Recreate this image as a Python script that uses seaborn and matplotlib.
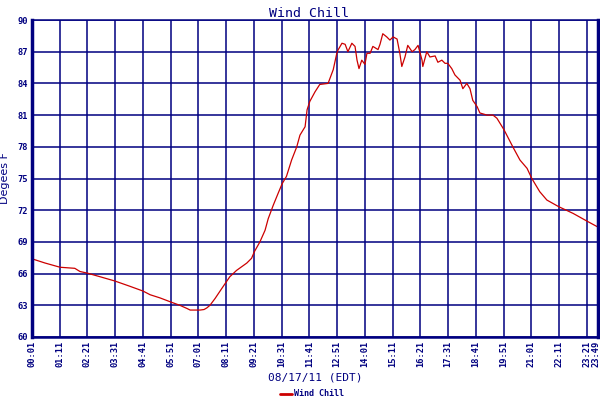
import pandas as pd
import seaborn as sns
import matplotlib
matplotlib.use("Agg")
import matplotlib.pyplot as plt
from matplotlib.transforms import ScaledTranslation

# minutes after 00:01 and wind chill (F)
minutes = [0, 33, 71, 108, 121, 139, 172, 209, 247, 280, 298, 323, 351, 373,
           391, 399, 424, 434, 441, 449, 462, 479, 499, 516, 542, 554, 561,
           575, 588, 596, 609, 621, 631, 642, 655, 668, 676, 689, 694, 701,
           714, 726, 747, 760, 769, 772, 782, 790, 797, 807, 815, 820, 825,
           832, 840, 845, 853, 860, 873, 878, 885, 895, 903, 911, 921, 928,
           933, 941, 948, 959, 966, 974, 984, 986, 996, 1004, 1017, 1024,
           1034, 1042, 1049, 1059, 1067, 1080, 1087, 1097, 1105, 1112, 1123,
           1130, 1148, 1163, 1173, 1191, 1213, 1231, 1249, 1261, 1281, 1299,
           1329, 1365, 1400, 1428]
wind_chill = [67.4, 67.0, 66.6, 66.5, 66.2, 66.05, 65.7, 65.3, 64.8, 64.35,
              64.0, 63.7, 63.3, 63.0, 62.7, 62.55, 62.55, 62.6, 62.75, 63.0,
              63.65, 64.6, 65.7, 66.3, 67.0, 67.45, 68.07, 69.0, 70.1, 71.2,
              72.5, 73.6, 74.5, 75.2, 76.75, 78.0, 79.1, 79.9, 81.5, 82.3,
              83.2, 83.9, 84.0, 85.3, 86.85, 87.15, 87.8, 87.7, 87.0, 87.8,
              87.5, 86.2, 85.4, 86.2, 85.8, 86.85, 86.85, 87.5, 87.2, 87.7,
              88.7, 88.4, 88.1, 88.4, 88.2, 86.85, 85.6, 86.5, 87.6, 87.0,
              87.2, 87.6, 86.2, 85.6, 87.0, 86.5, 86.6, 86.0, 86.2, 85.9,
              85.9, 85.4, 84.8, 84.3, 83.5, 84.0, 83.5, 82.4, 81.8, 81.2,
              81.0, 81.0, 80.7, 79.6, 78.0, 76.75, 75.96, 75.0, 73.75, 72.96,
              72.33, 71.7, 70.97, 70.4]

tick_pos = list(range(0, 1401, 70)) + [1428]
tick_labels = ["00:01", "01:11", "02:21", "03:31", "04:41", "05:51", "07:01",
               "08:11", "09:21", "10:31", "11:41", "12:51", "14:01", "15:11",
               "16:21", "17:31", "18:41", "19:51", "21:01", "22:11", "23:21",
               "23:49"]
y_ticks = list(range(60, 91, 3))

navy = "#000080"
red = "#cc0000"
mono = "DejaVu Sans Mono"

sns.set_style("white")
df = pd.DataFrame({"minute": minutes, "Wind Chill": wind_chill})

fig = plt.figure(figsize=(6, 4), dpi=100)
ax = fig.add_axes([0.0533, 0.1575, 0.9434, 0.7925])

sns.lineplot(data=df, x="minute", y="Wind Chill", color=red, linewidth=0.9,
             ax=ax, label="Wind Chill", legend=False)

ax.set_xlim(0, 1428)
ax.set_ylim(60, 90)
ax.set_xticks(tick_pos)
ax.set_xticklabels(tick_labels, rotation=90, fontsize=6.3, family=mono,
                   fontweight="bold", color=navy)
ax.set_yticks(y_ticks)
ax.set_yticklabels([str(v) for v in y_ticks], fontsize=6.3, family=mono,
                   fontweight="bold", color=navy)
ax.tick_params(length=0, pad=3)
# nudge last tick label so it stays inside the figure
last = ax.get_xticklabels()[-1]
last.set_transform(last.get_transform() + ScaledTranslation(-2 / 100, 0, fig.dpi_scale_trans))

ax.grid(True, color=navy, linewidth=1.1)
ax.set_axisbelow(True)
for side in ["left", "right"]:
    ax.spines[side].set_color(navy)
    ax.spines[side].set_linewidth(2.5)
ax.spines["bottom"].set_color(navy)
ax.spines["bottom"].set_linewidth(1.8)
ax.spines["top"].set_color(navy)
ax.spines["top"].set_linewidth(1.1)

ax.set_xlabel("08/17/11 (EDT)", fontsize=8, family=mono, color=navy, labelpad=4)
ax.set_ylabel("Degees F", fontsize=8, color=navy, labelpad=5)
fig.text(0.515, 0.982, "Wind Chill", ha="center", va="top", fontsize=9.5,
         family=mono, color=navy)

handles, labels = ax.get_legend_handles_labels()
fig.legend(handles, labels, loc="lower center", bbox_to_anchor=(0.52, -0.015),
           frameon=False, prop={"family": mono, "size": 6, "weight": "bold"},
           labelcolor=navy, handlelength=1.5, handletextpad=0.3)
for line in fig.legends[0].get_lines():
    line.set_linewidth(2)

fig.savefig("out.png", dpi=100)
